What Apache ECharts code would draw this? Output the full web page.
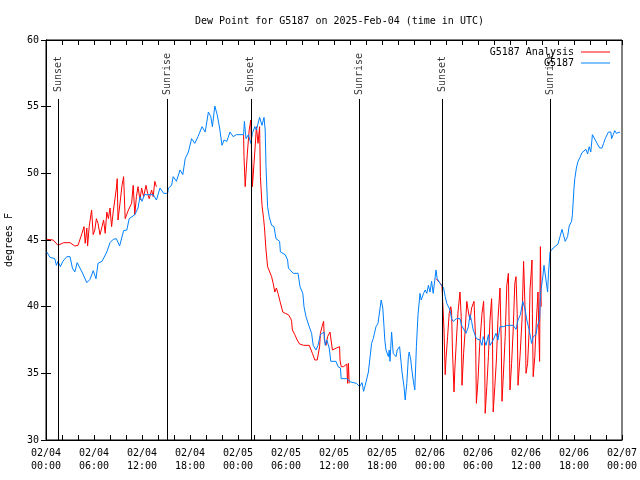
<!DOCTYPE html>
<html><head><meta charset="utf-8">
<script src="https://cdn.jsdelivr.net/npm/echarts@6/dist/echarts.min.js"></script>
<style>html,body{margin:0;padding:0;background:#fff}#c{width:640px;height:480px}</style>
</head><body><div id="c"></div>
<script>
// hours since 2025-02-04 00:00 UTC
var xTickLabels = ["02/04\n00:00","02/04\n06:00","02/04\n12:00","02/04\n18:00","02/05\n00:00","02/05\n06:00","02/05\n12:00","02/05\n18:00","02/06\n00:00","02/06\n06:00","02/06\n12:00","02/06\n18:00","02/07\n00:00"];
var eventHours = [1.5, 15.15, 25.6, 39.2, 49.5, 63.0];
var eventNames = ["Sunset","Sunrise","Sunset","Sunrise","Sunset","Sunrise"];

var blueHours = [0.1,0.5,1.1,1.3,1.5,1.8,2.1,2.6,3.0,3.3,3.6,3.9,4.5,5.1,5.5,5.9,6.25,6.5,7.0,7.6,8.0,8.4,8.8,9.2,9.7,10.1,10.4,11.1,11.5,11.75,12.0,12.3,12.6,13.4,13.8,14.25,14.7,15.2,15.3,15.7,15.9,16.3,16.75,17.1,17.4,17.8,18.2,18.6,19.0,19.5,19.9,20.3,20.6,20.8,21.1,21.4,21.7,22.0,22.25,22.6,23.0,23.4,23.8,24.7,24.8,25.0,25.3,25.6,25.8,26.1,26.3,26.7,27.0,27.25,27.4,27.5,27.7,27.9,28.2,28.5,28.75,29.2,29.3,29.9,30.2,30.3,30.9,31.5,31.75,32.1,32.25,32.5,32.7,32.9,33.2,33.4,33.75,34.0,34.3,34.75,34.9,35.1,35.4,35.6,36.25,36.5,36.8,36.9,37.6,38.1,38.8,39.2,39.5,39.7,39.9,40.3,40.7,40.9,41.25,41.5,41.75,41.9,42.1,42.25,42.35,42.5,42.8,42.9,43.0,43.2,43.4,43.75,43.9,44.2,44.5,44.75,44.9,45.1,45.3,45.4,45.6,45.7,45.9,46.1,46.3,46.5,46.75,46.9,47.2,47.4,47.6,47.8,48.0,48.2,48.4,48.75,48.9,49.25,49.7,49.9,50.1,50.5,50.7,50.9,51.3,51.75,51.95,52.2,52.5,52.8,53.0,53.2,53.4,53.8,54.25,54.5,54.65,55.0,55.3,55.5,55.9,56.25,56.5,56.75,57.2,57.6,58.0,58.4,58.75,59.0,59.3,59.6,59.9,60.1,60.4,60.7,60.9,61.25,61.4,61.7,61.8,62.1,62.25,62.5,62.7,62.8,63.0,63.4,63.6,64.0,64.25,64.5,64.7,64.9,65.2,65.4,65.7,65.8,66.0,66.1,66.3,66.5,66.75,67.0,67.25,67.5,67.7,67.9,68.1,68.3,68.5,68.75,68.9,69.2,69.5,69.7,69.9,70.1,70.3,70.6,70.7,70.9,71.1,71.3,71.5,71.75];
var blueValues = [44.1,43.7,43.6,43.1,43.4,43.0,43.4,43.75,43.75,42.9,42.6,43.3,42.6,41.8,42.05,42.7,42.1,43.25,43.4,44.1,44.8,45.05,45.1,44.55,45.7,45.75,46.6,46.9,47.4,48.25,47.9,48.4,48.4,48.4,48.0,48.9,48.5,48.5,48.9,49.1,49.75,49.4,50.25,49.9,51.1,51.6,52.6,52.25,52.75,53.5,53.1,54.6,54.25,53.5,55.05,54.4,53.4,52.1,52.5,52.4,53.1,52.75,52.9,52.9,53.9,52.6,52.9,52.25,53.0,53.5,53.25,54.2,53.6,54.2,53.25,50.5,47.5,46.75,46.1,46.0,45.1,44.9,44.1,43.9,43.5,42.9,42.5,42.5,41.5,41.0,40.0,39.25,39.1,38.5,38.0,37.1,36.75,37.1,37.9,38.1,37.1,37.5,36.9,35.9,35.9,35.5,35.4,34.6,34.6,34.35,34.25,34.0,34.3,33.65,34.1,35.1,37.25,37.6,38.5,38.75,38.6,40.5,39.9,38.5,37.5,36.75,36.25,36.75,35.9,38.1,36.5,36.25,36.75,37.0,35.1,34.0,33.0,34.25,36.25,36.6,36.0,35.4,34.5,33.75,37.0,39.4,41.0,40.5,41.0,41.25,41.0,41.6,41.1,41.9,41.0,42.75,42.1,41.75,41.4,40.75,40.25,39.75,39.1,38.9,39.1,39.1,38.6,38.5,38.0,38.5,39.4,38.9,38.25,37.6,37.5,37.1,37.75,37.1,37.9,37.1,37.5,38.0,37.5,38.5,38.5,38.6,38.6,38.6,38.3,39.0,39.4,40.4,39.75,39.0,38.25,37.25,37.75,37.9,38.5,39.0,40.9,42.25,43.1,43.0,41.1,42.4,44.1,44.4,44.5,44.7,45.25,45.8,45.8,44.9,45.25,46.05,46.4,46.9,48.9,49.6,50.4,50.9,51.2,51.55,51.5,51.8,51.45,52.0,51.6,52.9,53.0,52.4,52.55,51.9,51.9,52.25,52.6,52.5,53.1,53.1,52.6,52.9,53.2,53.0,53.05,53.1];

var redHours = [0.1,0.9,1.5,1.75,2.2,3.0,3.6,4.0,4.5,4.75,4.9,5.1,5.2,5.4,5.7,5.9,6.1,6.3,6.5,6.75,7.0,7.2,7.4,7.6,7.8,8.0,8.2,8.4,8.6,8.8,8.9,9.0,9.25,9.5,9.7,9.9,10.3,10.7,10.9,11.1,11.3,11.5,11.75,11.95,12.2,12.5,12.7,12.9,13.2,13.4,13.6,13.8,14.0,
24.7,24.75,24.9,25.0,25.2,25.4,25.6,25.7,25.8,26.0,26.2,26.3,26.5,26.7,26.8,27.0,27.2,27.3,27.5,27.7,27.9,28.2,28.4,28.6,28.8,29.0,29.25,29.6,29.9,30.3,30.6,30.7,30.8,31.1,31.4,31.7,32.2,32.9,33.3,33.6,33.9,34.2,34.3,34.5,34.7,34.8,35.0,35.2,35.5,35.7,35.8,36.0,36.3,36.7,36.75,36.9,37.2,37.4,37.6,37.7,37.8,37.9,38.0,
48.75,48.9,49.3,49.5,49.75,49.9,50.0,50.2,50.4,50.6,50.7,50.8,51.0,51.1,51.3,51.5,51.75,51.9,52.0,52.2,52.4,52.6,52.8,53.0,53.2,53.5,53.7,53.8,54.0,54.2,54.5,54.7,54.8,54.9,55.1,55.3,55.5,55.7,55.8,55.9,56.1,56.3,56.5,56.75,56.9,57.0,57.2,57.4,57.6,57.8,57.9,58.0,58.2,58.4,58.6,58.75,58.9,59.0,59.25,59.5,59.7,59.8,59.9,60.0,60.2,60.4,60.5,60.75,60.8,60.9,61.1,61.3,61.5,61.6,61.7,61.75,61.8,61.9];
var redValues = [45.05,45.0,44.6,44.75,44.8,44.8,44.55,44.6,45.5,46.0,44.75,45.9,44.55,46.0,47.25,45.4,45.75,46.6,46.25,45.4,46.0,46.5,45.5,47.1,46.6,47.4,46.0,47.1,48.0,48.9,49.6,46.5,47.75,49.1,49.75,46.6,47.25,47.75,49.1,46.9,48.25,49.0,48.0,48.9,48.25,49.1,48.5,48.1,48.75,48.25,49.4,49.0,null,
52.9,51.25,49.0,50.0,51.75,53.25,54.0,51.5,49.0,50.75,52.5,53.5,52.25,53.5,49.75,47.6,46.6,46.0,44.25,43.0,43.0,42.25,41.75,41.1,41.4,41.0,40.4,39.6,39.5,39.4,39.1,38.9,38.25,37.9,37.5,37.2,37.1,37.1,36.5,36.0,36.0,37.0,38.0,38.5,38.9,37.5,37.1,37.75,38.1,38.25,36.75,36.9,36.9,37.0,36.0,35.5,35.5,35.6,35.7,34.25,35.75,34.25,null,
42.1,42.0,41.75,41.5,38.25,34.9,36.1,37.75,39.5,40.0,39.6,36.9,33.6,35.25,37.5,39.6,41.1,39.25,34.1,36.5,38.25,40.4,39.6,39.0,39.9,40.4,37.5,32.75,34.5,37.0,39.5,40.4,38.5,32.0,34.0,36.25,39.0,40.6,38.25,32.1,34.0,36.0,39.1,41.4,37.5,32.9,35.25,37.75,41.6,42.5,38.25,33.75,35.75,38.25,41.75,42.25,39.5,34.1,36.25,39.0,43.4,43.4,39.5,35.0,35.75,38.25,41.25,43.5,39.5,34.75,36.25,39.0,41.1,38.25,35.9,40.75,44.5,40.0];

function zip(a, b) { return a.map(function (h, i) { return [h, b[i]]; }); }

var FONT = 'DejaVu Sans Mono';
var chart = echarts.init(document.getElementById('c'), null, {renderer: 'canvas'});
var axisLine = {show: true, lineStyle: {color: '#000', width: 1}};
var tick = {show: true, inside: true, length: 5, lineStyle: {color: '#000'}};
var minor = {show: true, splitNumber: 3, length: 5, lineStyle: {color: '#000'}};

chart.setOption({
  animation: false,
  backgroundColor: '#fff',
  textStyle: {fontFamily: FONT},
  title: {
    text: 'Dew Point for G5187 on 2025-Feb-04 (time in UTC)',
    left: 190, top: 11,
    textStyle: {fontFamily: FONT, fontSize: 10, fontWeight: 'normal', color: '#000'}
  },
  legend: {
    data: ['G5187 Analysis', 'G5187'],
    orient: 'vertical', right: 25, top: 42, align: 'right',
    icon: 'rect', itemWidth: 29, itemHeight: 1, itemGap: 1,
    textStyle: {fontFamily: FONT, fontSize: 10, color: '#000', padding: [0, 2, 0, 0]}
  },
  grid: {left: 46, right: 18, top: 40, bottom: 40, show: true, borderColor: '#000', borderWidth: 1,
    backgroundColor: 'transparent', containLabel: false, outerBoundsMode: 'none'},
  xAxis: [{
    type: 'value', min: 0, max: 72, interval: 6, position: 'bottom',
    axisLine: axisLine, axisTick: tick, minorTick: minor, splitLine: {show: false},
    axisLabel: {color: '#000', fontFamily: FONT, fontSize: 10, lineHeight: 13, margin: 7,
      formatter: function (v) { return xTickLabels[Math.round(v / 6)]; }}
  }, {
    type: 'value', min: 0, max: 72, interval: 6, position: 'top',
    axisLine: axisLine, axisTick: tick, minorTick: minor, splitLine: {show: false},
    axisLabel: {show: false}
  }],
  yAxis: [{
    type: 'value', min: 30, max: 60, interval: 5, position: 'left',
    name: 'degrees F', nameLocation: 'middle', nameGap: 32, nameRotate: 90,
    nameTextStyle: {fontFamily: FONT, fontSize: 10, color: '#000'},
    axisLine: axisLine, axisTick: tick, splitLine: {show: false},
    axisLabel: {color: '#000', fontFamily: FONT, fontSize: 10, margin: 7}
  }, {
    type: 'value', min: 30, max: 60, interval: 5, position: 'right',
    axisLine: axisLine, axisTick: tick, splitLine: {show: false},
    axisLabel: {show: false}
  }],
  series: [{
    name: 'G5187 Analysis', type: 'line', data: zip(redHours, redValues),
    symbol: 'none', connectNulls: false, color: '#ff0000',
    lineStyle: {color: '#ff0000', width: 1}, z: 3
  }, {
    name: 'G5187', type: 'line', data: zip(blueHours, blueValues),
    symbol: 'none', color: '#0080ff',
    lineStyle: {color: '#0080ff', width: 1}, z: 4
  }, {
    name: 'events', type: 'scatter', symbolSize: 0, z: 5,
    data: eventHours.map(function (h, i) { return {value: [h, 57.45], name: eventNames[i]}; }),
    label: {show: true, position: 'inside', rotate: 90, formatter: '{b}',
      fontFamily: FONT, fontSize: 10, color: '#000'},
    markLine: {
      silent: true, symbol: ['none', 'none'], animation: false,
      lineStyle: {color: '#000', width: 1, type: 'solid'},
      label: {show: false},
      data: eventHours.map(function (h) { return [{coord: [h, 30]}, {coord: [h, 55.58]}]; })
    }
  }]
});
</script>
</body></html>
